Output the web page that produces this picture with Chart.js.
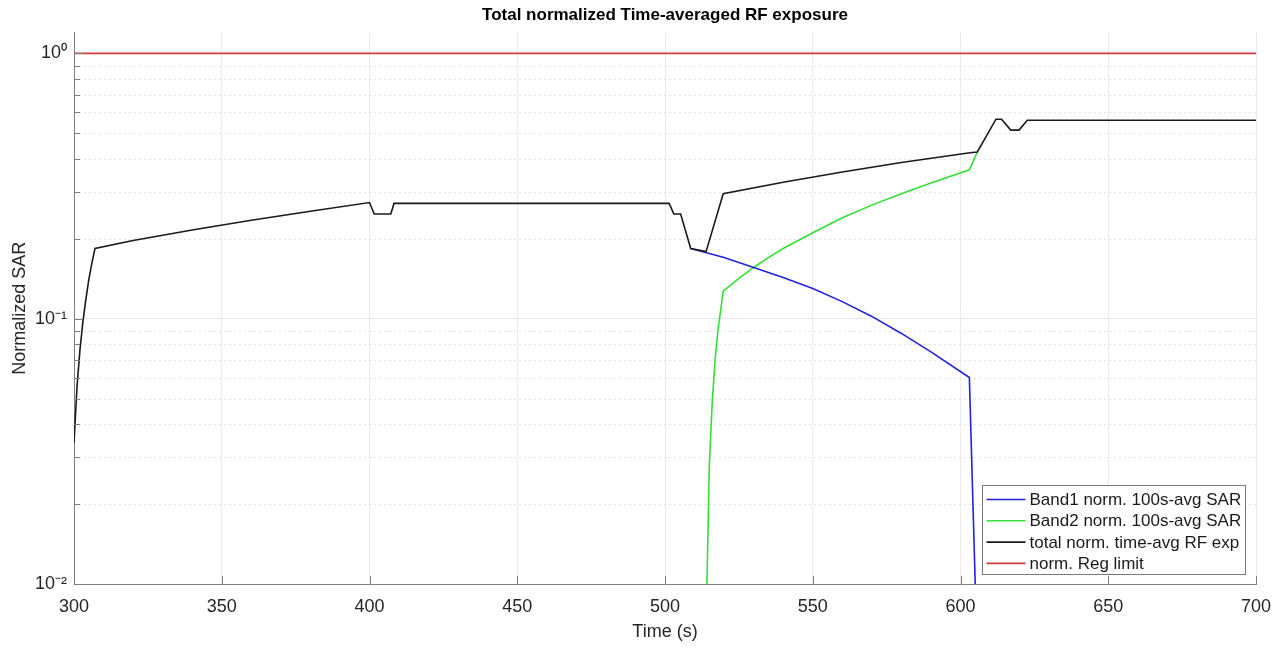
<!DOCTYPE html>
<html>
<head>
<meta charset="utf-8">
<script src="https://cdn.jsdelivr.net/npm/chart.js@4.4.0/dist/chart.umd.min.js"></script>
<style>
  body { margin: 0; background: #fff; }
  #wrap { width: 1285px; height: 648px; }
</style>
</head>
<body>
<div id="wrap"><canvas id="myChart" width="1285" height="648"></canvas></div>
<script>
// Time (s) / normalized value pairs
var totalT = [300, 301, 302, 303, 304, 305, 306, 307.1, 320, 340, 360, 380, 400, 401.6, 407.2, 408.3, 501.4, 503, 505.3, 508.7, 513.9, 519.7, 540, 560, 580, 603.2, 605.7, 612.0, 613.9, 617.0, 619.8, 622.6, 700];
var totalV = [0.034, 0.055, 0.076, 0.097, 0.118, 0.140, 0.161, 0.184, 0.197, 0.216, 0.235, 0.254, 0.274, 0.248, 0.248, 0.272, 0.272, 0.248, 0.248, 0.184, 0.179, 0.296, 0.327, 0.357, 0.388, 0.422, 0.425, 0.565, 0.565, 0.514, 0.514, 0.560, 0.560];

var band1T = [508.7, 520, 530, 540, 550, 560, 570, 580, 590, 603, 606];
var band1V = [0.184, 0.170, 0.156, 0.143, 0.130, 0.116, 0.102, 0.088, 0.075, 0.060, 0.004];

var band2T = [513.8, 514.2, 515, 516, 517, 518, 519.7, 525, 530, 535, 540, 550, 560, 570, 580, 590, 603, 605.7];
var band2V = [0.002, 0.010, 0.028, 0.049, 0.071, 0.092, 0.127, 0.142, 0.156, 0.170, 0.184, 0.211, 0.240, 0.268, 0.296, 0.325, 0.364, 0.425];

var limitT = [300, 700];
var limitV = [1, 1];

var yMajorTicks = [0.01, 0.1, 1];
var yMajorLabels = ['10\u207B\u00B2', '10\u207B\u00B9', '10\u2070'];
var yMinorTicks = [0.02, 0.03, 0.04, 0.05, 0.06, 0.07, 0.08, 0.09, 0.2, 0.3, 0.4, 0.5, 0.6, 0.7, 0.8, 0.9];

var font = "'Liberation Sans', Arial, Helvetica, sans-serif";
var axisColor = '#7f7f7f';

function toPoints(t, v) {
  return t.map(function (x, i) { return { x: x, y: v[i] }; });
}
function majorIndex(val) {
  for (var i = 0; i < yMajorTicks.length; i++) {
    if (Math.abs(val - yMajorTicks[i]) < yMajorTicks[i] * 1e-6) return i;
  }
  return -1;
}

// minor dotted grid, inward tick marks and the boxed legend (MATLAB look)
var matlabAxes = {
  id: 'matlabAxes',
  beforeDatasetsDraw: function (chart) {
    var c = chart.ctx, ca = chart.chartArea, y = chart.scales.y;
    c.save();
    c.strokeStyle = '#e2e2e2';
    c.lineWidth = 1;
    c.setLineDash([2, 3]);
    yMinorTicks.forEach(function (v) {
      var py = Math.round(y.getPixelForValue(v)) + 0.5;
      c.beginPath();
      c.moveTo(ca.left, py);
      c.lineTo(ca.right, py);
      c.stroke();
    });
    c.restore();
  },
  afterDraw: function (chart) {
    var c = chart.ctx, ca = chart.chartArea;
    var x = chart.scales.x, y = chart.scales.y;
    c.save();
    c.strokeStyle = axisColor;
    c.lineWidth = 1;
    x.ticks.forEach(function (t) {
      var px = Math.round(x.getPixelForValue(t.value)) + 0.5;
      c.beginPath();
      c.moveTo(px, ca.bottom);
      c.lineTo(px, ca.bottom - 8);
      c.stroke();
    });
    y.ticks.forEach(function (t) {
      var py = Math.round(y.getPixelForValue(t.value)) + 0.5;
      var len = majorIndex(t.value) >= 0 ? 9 : 6;
      c.beginPath();
      c.moveTo(ca.left, py);
      c.lineTo(ca.left + len, py);
      c.stroke();
    });

    // legend
    c.font = '17px ' + font;
    var ds = chart.data.datasets;
    var maxW = 0;
    ds.forEach(function (d) { maxW = Math.max(maxW, c.measureText(d.label).width); });
    var boxW = Math.round(4 + 39 + 4 + maxW + 4);
    var boxH = 89;
    var bx = Math.round(ca.right - 11 - boxW) + 0.5;
    var by = Math.round(ca.bottom - 10 - boxH) + 0.5;
    c.fillStyle = '#fff';
    c.fillRect(bx, by, boxW, boxH);
    c.strokeStyle = '#7a7a7a';
    c.strokeRect(bx, by, boxW, boxH);
    c.textBaseline = 'middle';
    c.textAlign = 'left';
    ds.forEach(function (d, i) {
      var cy = by + 14 + i * 21.3;
      c.strokeStyle = d.borderColor;
      c.lineWidth = 1.6;
      c.beginPath();
      c.moveTo(bx + 4, cy);
      c.lineTo(bx + 43, cy);
      c.stroke();
      c.fillStyle = '#1a1a1a';
      c.fillText(d.label, bx + 47, cy + 1);
    });
    c.restore();
  }
};

var ctx = document.getElementById('myChart').getContext('2d');
var chart = new Chart(ctx, {
  type: 'line',
  data: {
    datasets: [{
      label: 'Band1 norm. 100s-avg SAR',
      data: toPoints(band1T, band1V),
      borderColor: '#2222e0',
      order: 1
    }, {
      label: 'Band2 norm. 100s-avg SAR',
      data: toPoints(band2T, band2V),
      borderColor: '#33e033',
      order: 2
    }, {
      label: 'total norm. time-avg RF exp',
      data: toPoints(totalT, totalV),
      borderColor: '#1a1a1a',
      order: 0
    }, {
      label: 'norm. Reg limit',
      data: toPoints(limitT, limitV),
      borderColor: '#d23b3b',
      order: 3
    }]
  },
  options: {
    responsive: false,
    animation: false,
    layout: { padding: { left: 0, right: 29, top: 0, bottom: 0 } },
    elements: {
      point: { radius: 0 },
      line: { borderWidth: 1.6, tension: 0, fill: false }
    },
    plugins: {
      legend: { display: false },
      tooltip: { enabled: false },
      title: {
        display: true,
        fullSize: false,
        text: 'Total normalized Time-averaged RF exposure',
        color: '#000',
        font: { family: font, size: 17, weight: 'bold' },
        padding: { top: 5, bottom: 7 }
      }
    },
    scales: {
      x: {
        type: 'linear',
        min: 300,
        max: 700,
        ticks: {
          stepSize: 50,
          padding: 12,
          maxRotation: 0,
          color: '#262626',
          font: { family: font, size: 18 }
        },
        grid: { color: '#ebebeb', drawTicks: false },
        border: { color: axisColor },
        title: {
          display: true,
          text: 'Time (s)',
          color: '#262626',
          font: { family: font, size: 18 },
          padding: { top: 0, bottom: 5 }
        },
        afterFit: function (s) { s.height = 64; }
      },
      y: {
        type: 'logarithmic',
        min: 0.01,
        max: 1.2,
        afterBuildTicks: function (s) {
          s.ticks = yMajorTicks.concat(yMinorTicks).sort(function (a, b) { return a - b; })
            .map(function (v) { return { value: v, major: majorIndex(v) >= 0 }; });
        },
        ticks: {
          autoSkip: false,
          padding: 7,
          color: '#262626',
          font: { family: font, size: 18 },
          callback: function (v) {
            var i = majorIndex(v);
            return i >= 0 ? yMajorLabels[i] : '';
          }
        },
        grid: {
          drawTicks: false,
          color: function (c) {
            return c.tick && majorIndex(c.tick.value) >= 0 ? '#e6e6e6' : 'rgba(0,0,0,0)';
          }
        },
        border: { color: axisColor },
        title: {
          display: true,
          text: 'Normalized SAR',
          color: '#262626',
          font: { family: font, size: 18 },
          padding: { top: 9, bottom: 0 }
        },
        afterFit: function (s) { s.width = 74; }
      }
    }
  },
  plugins: [matlabAxes]
});
</script>
</body>
</html>
